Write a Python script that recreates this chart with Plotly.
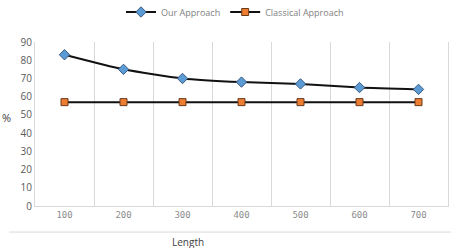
import plotly.graph_objects as go

lengths = ["100", "200", "300", "400", "500", "600", "700"]
our_approach = [83, 75, 70, 68, 67, 65, 64]
classical_approach = [57, 57, 57, 57, 57, 57, 57]
y_ticks = [0, 10, 20, 30, 40, 50, 60, 70, 80, 90]

W, H = 457, 248
L, R, T, B = 35, 8, 36, 42
pw, ph = W - L - R, H - T - B

def px_x(x):
    return (x - L) / pw

def px_y(y):
    return (H - B - y) / ph

fig = go.Figure()
fig.add_trace(go.Scatter(
    x=lengths, y=our_approach, name="Our Approach", mode="lines+markers",
    line=dict(color="#111111", width=2, shape="spline", smoothing=0.6),
    marker=dict(symbol="diamond", size=8, color="#5B9BD5",
                line=dict(color="#3a5a80", width=1)),
))
fig.add_trace(go.Scatter(
    x=lengths, y=classical_approach, name="Classical Approach", mode="lines+markers",
    line=dict(color="#111111", width=2),
    marker=dict(symbol="square", size=7, color="#ED7D31",
                line=dict(color="#6b3a1a", width=1)),
))

fig.update_layout(
    width=W, height=H,
    margin=dict(l=L, r=R, t=T, b=B),
    paper_bgcolor="white", plot_bgcolor="white",
    font=dict(family="Open Sans", color="#595959", size=10),
    showlegend=True,
    legend=dict(orientation="h", x=235 / W, xref="container", xanchor="center",
                y=1 - 12 / H, yref="container", yanchor="middle",
                font=dict(size=9, color="#7f7f7f"), itemwidth=30,
                tracegroupgap=0),
    xaxis=dict(type="category", tickson="boundaries", showgrid=True,
               gridcolor="#d9d9d9", gridwidth=1, showline=True,
               linecolor="#d9d9d9", ticks="", zeroline=False,
               tickfont=dict(family="DejaVu Sans Mono", size=9, color="#8c8c8c")),
    yaxis=dict(range=[0, 90], tickvals=y_ticks, showgrid=False, zeroline=False,
               showline=True, mirror=True, linecolor="#d9d9d9", ticks="",
               tickfont=dict(family="Open Sans", size=10, color="#595959")),
    annotations=[
        dict(text="Length", x=px_x(188), y=px_y(243), xref="paper", yref="paper",
             showarrow=False, xanchor="center", yanchor="middle",
             font=dict(size=10, color="#404040")),
        dict(text="%", x=px_x(6), y=px_y(114), xref="paper", yref="paper",
             showarrow=False, xanchor="center", yanchor="middle",
             font=dict(size=11, color="#404040")),
    ],
    shapes=[
        dict(type="line", xref="paper", yref="paper",
             x0=px_x(9), x1=px_x(452), y0=px_y(233), y1=px_y(233),
             line=dict(color="#d9d9d9", width=1)),
    ],
)
fig.update_xaxes(range=[-0.5, 6.5])

fig.write_html("out.html")
